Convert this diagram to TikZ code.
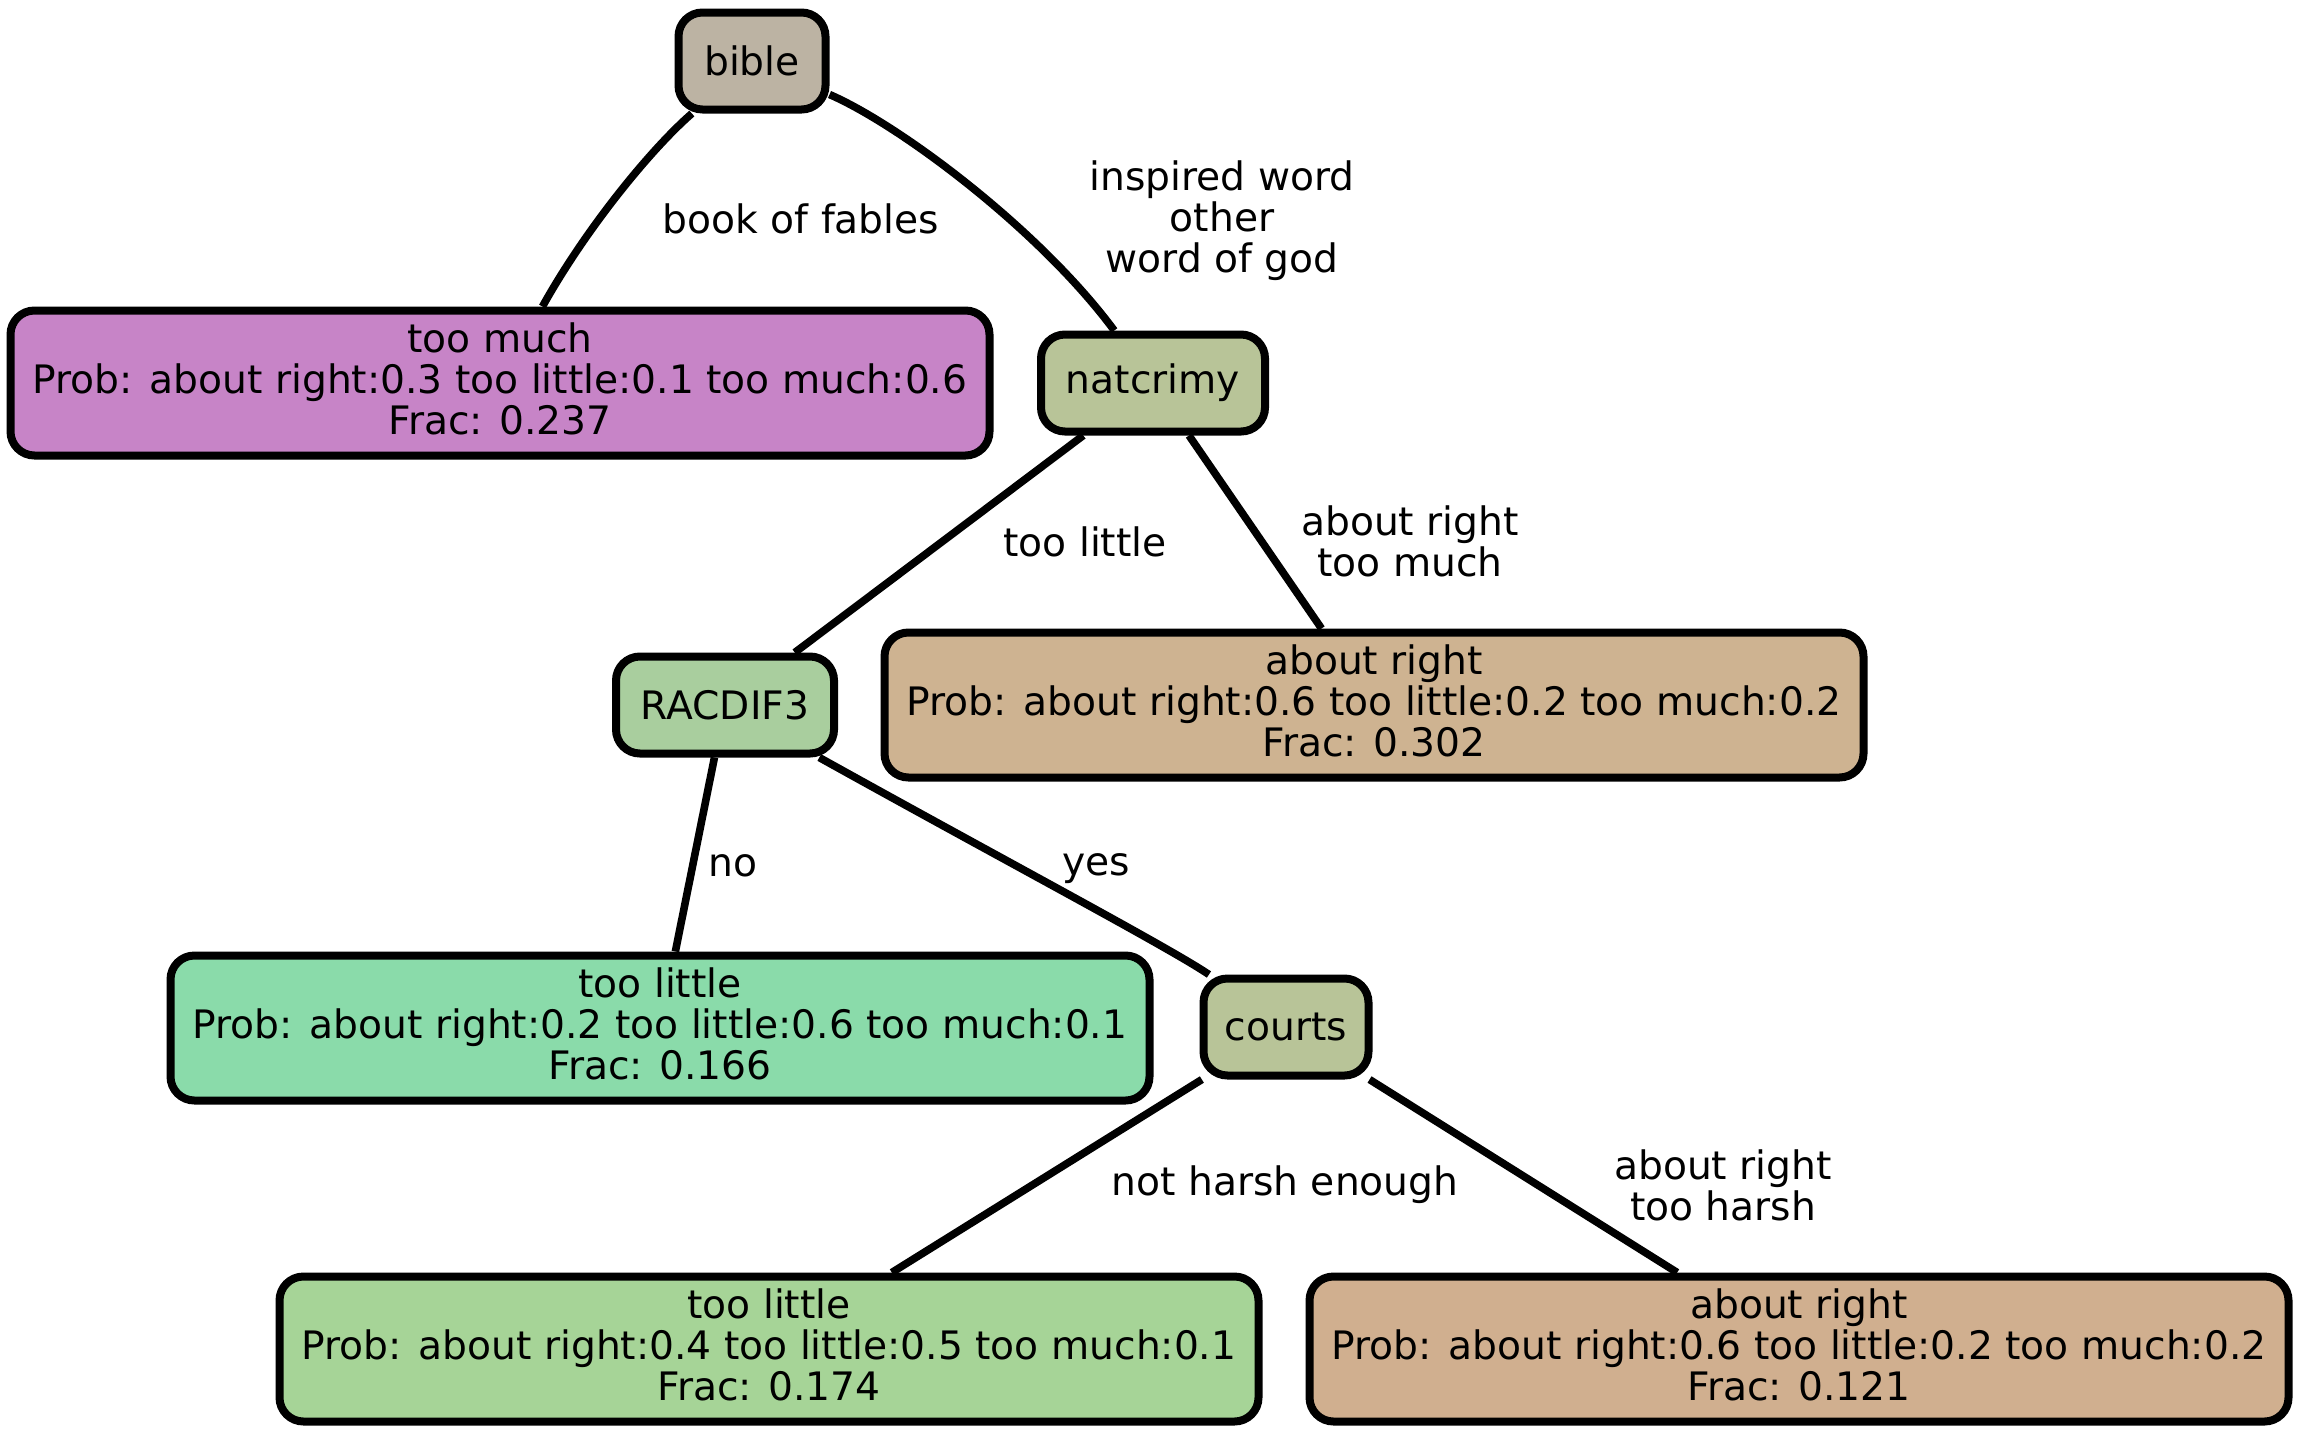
\documentclass[tikz,border=0pt]{standalone}
\usepackage{fontspec}
\setmainfont{DejaVu Sans}
\definecolor{cbible}{HTML}{BCB3A3}
\definecolor{ctoomuch}{HTML}{C784C7}
\definecolor{cnat}{HTML}{B8C498}
\definecolor{cracdif}{HTML}{A9CE9E}
\definecolor{carA}{HTML}{CEB391}
\definecolor{ctlA}{HTML}{8ADBAA}
\definecolor{ccourts}{HTML}{B8C498}
\definecolor{ctlB}{HTML}{A6D497}
\definecolor{carB}{HTML}{D0AF8F}
\tikzset{
  box/.style={draw, line width=4pt, rounded corners=12pt, align=center, inner sep=0pt,
    font=\fontsize{19.6}{20.5}\selectfont},
  big/.style={box, minimum width=489.5pt, minimum height=72.5pt, text depth=4pt},
  small/.style={box, minimum height=48.5pt},
  elabel/.style={align=center, inner sep=0pt, font=\fontsize{19.6}{20.5}\selectfont},
  edge/.style={line width=3.8pt}
}
\begin{document}
\begin{tikzpicture}[x=0.5pt,y=-0.5pt]
\useasboundingbox (0,0) rectangle (2300,1436);
% nodes
\node[small, fill=cbible, minimum width=73.5pt] (bible) at (752,61) {bible};
\node[big, fill=ctoomuch] (toomuch) at (500,383) {too much\\Prob: about right:0.3 too little:0.1 too much:0.6\\Frac: 0.237};
\node[small, fill=cnat, minimum width=112pt] (natcrimy) at (1153,383) {natcrimy};
\node[small, fill=cracdif, minimum width=109pt] (racdif) at (725,705) {RACDIF3};
\node[big, fill=carA] (arA) at (1374,705) {about right\\Prob: about right:0.6 too little:0.2 too much:0.2\\Frac: 0.302};
\node[big, fill=ctlA] (tlA) at (660,1028) {too little\\Prob: about right:0.2 too little:0.6 too much:0.1\\Frac: 0.166};
\node[small, fill=ccourts, minimum width=82.5pt] (courts) at (1286,1027) {courts};
\node[big, fill=ctlB] (tlB) at (769,1349) {too little\\Prob: about right:0.4 too little:0.5 too much:0.1\\Frac: 0.174};
\node[big, fill=carB] (arB) at (1799,1349) {about right\\Prob: about right:0.6 too little:0.2 too much:0.2\\Frac: 0.121};
% edges
\draw[edge] (bible) .. controls (650,150) and (585,230) .. (toomuch);
\draw[edge] (bible) .. controls (900,125) and (1040,230) .. (natcrimy);
\draw[edge] (natcrimy) -- (racdif);
\draw[edge] (natcrimy) -- (arA);
\draw[edge] (racdif) -- (tlA);
\draw[edge] (racdif) .. controls (1000,858) and (1170,948) .. (courts);
\draw[edge] (courts) -- (tlB);
\draw[edge] (courts) -- (arB);
% edge labels
\node[elabel] (l1) at (801,219) {book of fables};
\node[elabel] (l2) at (1222,221) {inspired word\\other\\word of god};
\node[elabel] (l3) at (1085,542) {too little};
\node[elabel] (l4) at (1410,541) {about right\\too much};
\node[elabel] (l5) at (733,866) {no};
\node[elabel] (l6) at (1096,869) {yes};
\node[elabel] (l7) at (1285,1185) {not harsh enough};
\node[elabel] (l8) at (1723,1185) {about right\\too harsh};
\end{tikzpicture}
\end{document}
